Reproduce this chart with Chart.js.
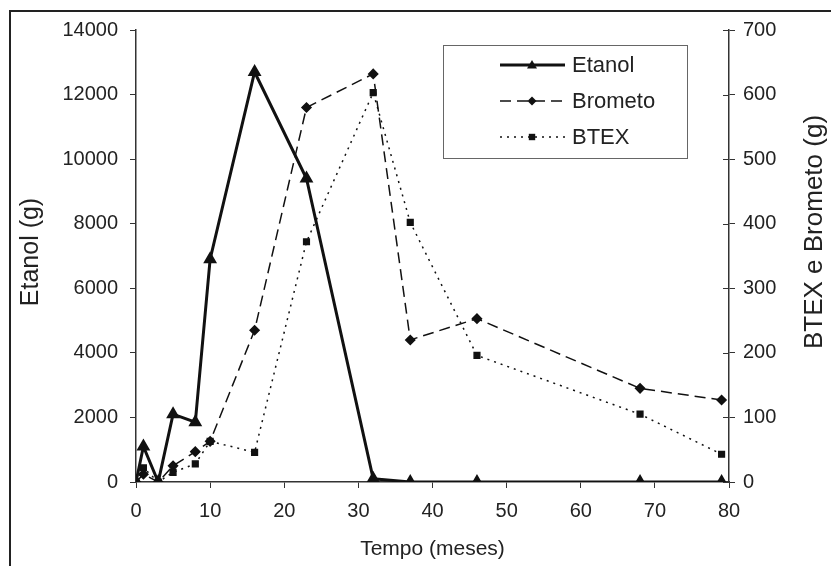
<!DOCTYPE html>
<html>
<head>
<meta charset="utf-8">
<script src="https://cdn.jsdelivr.net/npm/chart.js@4"></script>
<style>
    html, body { margin: 0; padding: 0; background: #fff; }
    #wrap { position: relative; width: 831px; height: 566px; }
    #frame { position: absolute; left: 9px; top: 10px; width: 830px; height: 570px;
             border-left: 2px solid #222; border-top: 2px solid #222; box-sizing: border-box; }
    canvas { position: absolute; left: 0; top: 0; }
</style>
</head>
<body>
<div id="wrap">
    <div id="frame"></div>
    <canvas id="chart" width="831" height="566"></canvas>
</div>
<script>
// Tempo (meses)
const months = [0, 1, 3, 5, 8, 10, 16, 23, 32, 37, 46, 68, 79];
// Etanol (g), left axis
const etanol = [0, 1100, 0, 2100, 1850, 6900, 12700, 9400, 100, 0, 0, 0, 0];
// Brometo (g), right axis
const brometo = [0, 12, 0, 25, 47, 63, 235, 580, 632, 220, 253, 145, 127];
// BTEX (g), right axis
const btex = [0, 22, 0, 15, 28, 63, 46, 372, 603, 402, 196, 105, 43];

const leftTicks = [0, 2000, 4000, 6000, 8000, 10000, 12000, 14000];
const rightTicks = [0, 100, 200, 300, 400, 500, 600, 700];

const FONT = "'Liberation Sans', Arial, sans-serif";
const INK = "#111";
const AXIS = "#333";

function toPoints(values) {
    return months.map((m, i) => ({x: m, y: values[i]}));
}

// legend box, axis titles and the inner half of the right axis ticks
const extras = {
    id: "extras",
    afterDraw(chart) {
        const ctx = chart.ctx;
        const area = chart.chartArea;
        const y2 = chart.scales.y2;
        ctx.save();

        ctx.strokeStyle = AXIS;
        ctx.lineWidth = 1;
        y2.ticks.forEach(t => {
            const py = Math.round(y2.getPixelForValue(t.value)) + 0.5;
            ctx.beginPath();
            ctx.moveTo(area.right - 6, py);
            ctx.lineTo(area.right, py);
            ctx.stroke();
        });

        ctx.fillStyle = "#222";
        ctx.textAlign = "center";
        ctx.textBaseline = "middle";
        ctx.font = "25px " + FONT;
        ctx.translate(31, 252);
        ctx.rotate(-Math.PI / 2);
        ctx.fillText("Etanol (g)", 0, 0);
        ctx.setTransform(1, 0, 0, 1, 0, 0);
        ctx.font = "26px " + FONT;
        ctx.translate(815, 232);
        ctx.rotate(-Math.PI / 2);
        ctx.fillText("BTEX e Brometo (g)", 0, 0);
        ctx.setTransform(1, 0, 0, 1, 0, 0);

        // legend
        ctx.fillStyle = "#fff";
        ctx.fillRect(443, 45, 244, 113);
        ctx.strokeStyle = "#666";
        ctx.lineWidth = 1;
        ctx.strokeRect(443.5, 45.5, 244, 113);
        const rows = [65, 101, 137];
        chart.data.datasets.forEach((ds, i) => {
            const y = rows[i];
            ctx.strokeStyle = ds.borderColor;
            ctx.lineWidth = ds.borderWidth;
            ctx.setLineDash(ds.borderDash || []);
            ctx.beginPath();
            ctx.moveTo(500, y);
            ctx.lineTo(565, y);
            ctx.stroke();
            ctx.setLineDash([]);
            ctx.fillStyle = INK;
            const r = ds.pointRadius;
            if (ds.pointStyle === "triangle") {
                ctx.beginPath();
                ctx.moveTo(532, y - r);
                ctx.lineTo(532 + r, y + r * 0.7);
                ctx.lineTo(532 - r, y + r * 0.7);
                ctx.closePath();
                ctx.fill();
            } else if (ds.pointStyle === "rectRot") {
                ctx.beginPath();
                ctx.moveTo(532, y - r);
                ctx.lineTo(532 + r, y);
                ctx.lineTo(532, y + r);
                ctx.lineTo(532 - r, y);
                ctx.closePath();
                ctx.fill();
            } else {
                ctx.fillRect(532 - r * 0.8, y - r * 0.8, r * 1.6, r * 1.6);
            }
            ctx.fillStyle = "#222";
            ctx.font = "22px " + FONT;
            ctx.textAlign = "left";
            ctx.fillText(ds.label, 572, y + 1);
        });
        ctx.restore();
    }
};

new Chart(document.getElementById("chart"), {
    type: "line",
    data: {
        datasets: [
            {
                label: "Etanol",
                data: toPoints(etanol),
                yAxisID: "y",
                borderColor: INK,
                backgroundColor: INK,
                borderWidth: 3,
                pointStyle: "triangle",
                pointRadius: 5,
                tension: 0
            },
            {
                label: "Brometo",
                data: toPoints(brometo),
                yAxisID: "y2",
                borderColor: INK,
                backgroundColor: INK,
                borderWidth: 1.5,
                borderDash: [11, 6],
                pointStyle: "rectRot",
                pointRadius: 4.5,
                tension: 0
            },
            {
                label: "BTEX",
                data: toPoints(btex),
                yAxisID: "y2",
                borderColor: INK,
                backgroundColor: INK,
                borderWidth: 1.5,
                borderDash: [2, 5],
                pointStyle: "rect",
                pointRadius: 4,
                tension: 0
            }
        ]
    },
    options: {
        responsive: false,
        animation: false,
        layout: {padding: {top: 30, left: 0, right: 0, bottom: 0}},
        plugins: {
            legend: {display: false},
            tooltip: {enabled: false}
        },
        scales: {
            x: {
                type: "linear",
                min: 0,
                max: 80,
                afterFit: s => { s.height = 84; },
                border: {color: AXIS, width: 1.5},
                grid: {drawOnChartArea: false, tickLength: 6, color: AXIS},
                ticks: {stepSize: 10, color: "#222", padding: 11, font: {family: FONT, size: 20},
                        callback: v => String(v)},
                title: {display: true, text: "Tempo (meses)", color: "#222",
                        font: {family: FONT, size: 21}, padding: {top: 6}}
            },
            y: {
                position: "left",
                min: 0,
                max: 14000,
                afterFit: s => { s.width = 136; },
                afterBuildTicks: s => { s.ticks = leftTicks.map(v => ({value: v})); },
                border: {color: AXIS, width: 1.5},
                grid: {drawOnChartArea: false, tickLength: 6, color: AXIS},
                ticks: {color: "#222", padding: 12, font: {family: FONT, size: 20},
                        callback: v => String(v)}
            },
            y2: {
                position: "right",
                min: 0,
                max: 700,
                afterFit: s => { s.width = 102; },
                afterBuildTicks: s => { s.ticks = rightTicks.map(v => ({value: v})); },
                border: {color: AXIS, width: 1.5},
                grid: {drawOnChartArea: false, tickLength: 6, color: AXIS},
                ticks: {color: "#222", padding: 8, font: {family: FONT, size: 20},
                        callback: v => String(v)}
            }
        }
    },
    plugins: [extras]
});
</script>
</body>
</html>
